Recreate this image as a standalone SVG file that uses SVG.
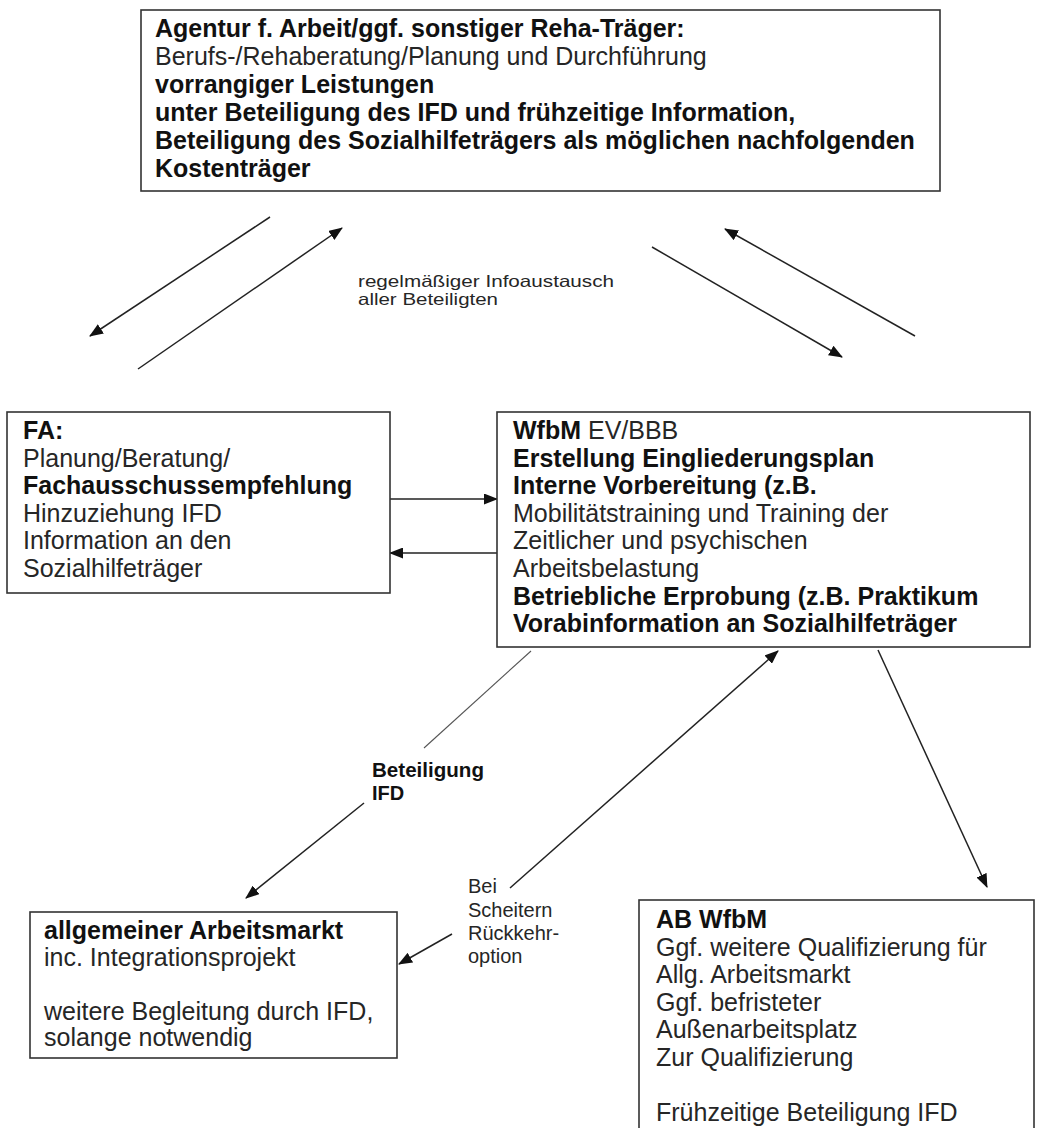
<svg xmlns="http://www.w3.org/2000/svg" width="1053" height="1128" viewBox="0 0 1053 1128">
  <defs>
    <marker id="head" markerUnits="userSpaceOnUse" markerWidth="14" markerHeight="11" refX="13" refY="5.5" orient="auto">
      <path d="M0,0 L14,5.5 L0,11 z" fill="#111"/>
    </marker>
    <style>
      .box { fill: #fff; stroke: #333; stroke-width: 1.6; }
      text { font-family: "Liberation Sans", Arial, sans-serif; font-size: 25px; fill: #262626; }
      .b { font-weight: bold; fill: #111; }
      .small { font-size: 16.5px; }
      .mid { font-size: 20px; }
      .link { stroke: #222; stroke-width: 1.5; fill: none; marker-end: url(#head); }
      .plain { stroke: #555; stroke-width: 1.1; fill: none; }
    </style>
  </defs>
  <rect width="1053" height="1128" fill="#fff"/>

  <!-- connectors -->
  <g id="connectors">
    <line class="link" x1="270" y1="217" x2="90" y2="336"/>
    <line class="link" x1="138" y1="369" x2="342" y2="228"/>
    <line class="link" x1="652" y1="247" x2="842" y2="357"/>
    <line class="link" x1="915" y1="336" x2="725" y2="229"/>
    <line class="link" x1="390" y1="499" x2="497" y2="499"/>
    <line class="link" x1="497" y1="553" x2="390" y2="553"/>
    <line class="plain" x1="531" y1="651" x2="424" y2="748"/>
    <line class="link" x1="364" y1="803" x2="246" y2="898"/>
    <line class="link" x1="510" y1="888" x2="778" y2="651"/>
    <line class="link" x1="452" y1="934" x2="399" y2="964"/>
    <line class="link" x1="878" y1="650" x2="987" y2="887"/>
    <text class="small" x="358" y="287" textLength="256" lengthAdjust="spacingAndGlyphs">regelmäßiger Infoaustausch</text>
    <text class="small" x="358" y="305" textLength="140" lengthAdjust="spacingAndGlyphs">aller Beteiligten</text>
    <text class="mid b" x="372" y="777" textLength="112" lengthAdjust="spacingAndGlyphs">Beteiligung</text>
    <text class="mid b" x="372" y="800">IFD</text>
    <text class="mid" x="468" y="893">Bei</text>
    <text class="mid" x="468" y="917">Scheitern</text>
    <text class="mid" x="468" y="940">Rückkehr-</text>
    <text class="mid" x="468" y="963">option</text>
  </g>

  <!-- Agentur f. Arbeit -->
  <g id="agentur">
    <rect class="box" x="141" y="10" width="799" height="181"/>
    <text class="b" x="155" y="37">Agentur f. Arbeit/ggf. sonstiger Reha-Träger:</text>
    <text x="155" y="65">Berufs-/Rehaberatung/Planung und Durchführung</text>
    <text class="b" x="155" y="93">vorrangiger Leistungen</text>
    <text class="b" x="155" y="121">unter Beteiligung des IFD und frühzeitige Information,</text>
    <text class="b" x="155" y="149">Beteiligung des Sozialhilfeträgers als möglichen nachfolgenden</text>
    <text class="b" x="155" y="177">Kostenträger</text>
  </g>

  <!-- Fachausschuss -->
  <g id="fa">
    <rect class="box" x="7" y="412" width="383" height="181"/>
    <text class="b" x="23" y="439">FA:</text>
    <text x="23" y="467">Planung/Beratung/</text>
    <text class="b" x="23" y="494">Fachausschussempfehlung</text>
    <text x="23" y="522">Hinzuziehung IFD</text>
    <text x="23" y="549">Information an den</text>
    <text x="23" y="577">Sozialhilfeträger</text>
  </g>

  <!-- WfbM Eingangsverfahren / Berufsbildungsbereich -->
  <g id="wfbm">
    <rect class="box" x="497" y="412" width="533" height="235"/>
    <text x="513" y="439"><tspan class="b">WfbM</tspan> EV/BBB</text>
    <text class="b" x="513" y="467">Erstellung Eingliederungsplan</text>
    <text class="b" x="513" y="494">Interne Vorbereitung (z.B.</text>
    <text x="513" y="522">Mobilitätstraining und Training der</text>
    <text x="513" y="549">Zeitlicher und psychischen</text>
    <text x="513" y="577">Arbeitsbelastung</text>
    <text class="b" x="513" y="605">Betriebliche Erprobung (z.B. Praktikum</text>
    <text class="b" x="513" y="632">Vorabinformation an Sozialhilfeträger</text>
  </g>

  <!-- allgemeiner Arbeitsmarkt -->
  <g id="arbeitsmarkt">
    <rect class="box" x="30" y="912" width="367" height="146"/>
    <text class="b" x="44" y="939">allgemeiner Arbeitsmarkt</text>
    <text x="44" y="966">inc. Integrationsprojekt</text>
    <text x="44" y="1020">weitere Begleitung durch IFD,</text>
    <text x="44" y="1046">solange notwendig</text>
  </g>

  <!-- Arbeitsbereich WfbM -->
  <g id="ab-wfbm">
    <rect class="box" x="639" y="900" width="395" height="250"/>
    <text class="b" x="656" y="928">AB WfbM</text>
    <text x="656" y="956">Ggf. weitere Qualifizierung für</text>
    <text x="656" y="983">Allg. Arbeitsmarkt</text>
    <text x="656" y="1011">Ggf. befristeter</text>
    <text x="656" y="1038">Außenarbeitsplatz</text>
    <text x="656" y="1066">Zur Qualifizierung</text>
    <text x="656" y="1121">Frühzeitige Beteiligung IFD</text>
  </g>
</svg>
